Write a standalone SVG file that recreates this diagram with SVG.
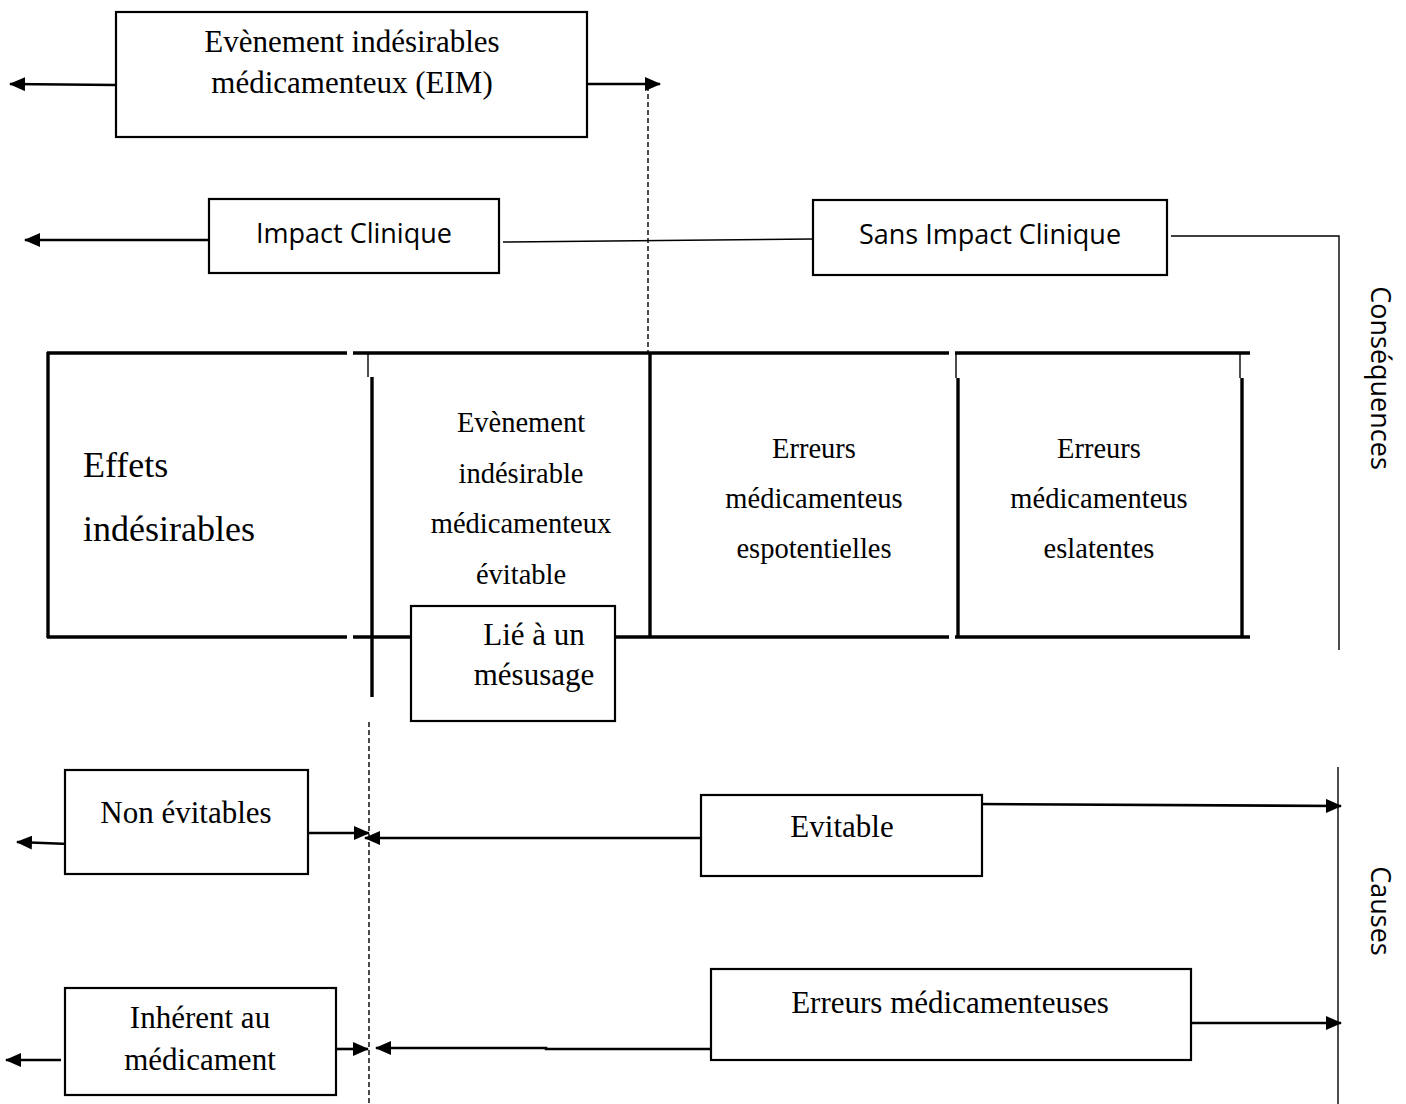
<svg xmlns="http://www.w3.org/2000/svg" width="1406" height="1104" viewBox="0 0 1406 1104">
<style>
.bg{fill:#fff}
.box{fill:#fff;stroke:#000;stroke-width:2.2}
.ser{font-family:"Liberation Serif","Times New Roman",serif;fill:#000}
.san{font-family:"Open Sans","Noto Sans",sans-serif;fill:#000;font-size:27px}
.c{text-anchor:middle}
.thick{stroke:#000;stroke-width:3.4;fill:none}
.thin{stroke:#000;stroke-width:1.4;fill:none}
.arr{stroke:#000;stroke-width:2.6;fill:none;marker-end:url(#ah)}
.ln{stroke:#000;stroke-width:2.6;fill:none}
.dash{stroke:#000;stroke-width:1.4;fill:none;stroke-dasharray:5,3}
</style>
<defs>
<marker id="ah" viewBox="0 0 16 14" refX="15" refY="7" markerWidth="16" markerHeight="14" markerUnits="userSpaceOnUse" orient="auto">
<path d="M0,0 L16,7 L0,14 z" fill="#000"/>
</marker>
</defs>
<rect class="bg" x="0" y="0" width="1406" height="1104"/>

<g id="connectors">
<line class="arr" x1="116" y1="85" x2="10" y2="84"/>
<line class="arr" x1="587" y1="84" x2="660" y2="84"/>
<line class="dash" x1="648" y1="86" x2="648" y2="353"/>
<line class="arr" x1="209" y1="240" x2="25" y2="240"/>
<line class="thin" x1="503" y1="242" x2="813" y2="239"/>
<polyline class="thin" points="1171,236 1339,236 1339,650"/>
<line class="thin" x1="1338" y1="767" x2="1338" y2="1104"/>
<line class="dash" x1="369" y1="722" x2="369" y2="1104"/>
<line class="arr" x1="69" y1="844" x2="17" y2="842"/>
<line class="arr" x1="306" y1="833" x2="369" y2="833"/>
<line class="arr" x1="701" y1="838" x2="365" y2="838"/>
<line class="arr" x1="976" y1="804" x2="1341" y2="806"/>
<line class="arr" x1="1191" y1="1023" x2="1341" y2="1023"/>
<line class="arr" x1="61" y1="1060" x2="6" y2="1060"/>
<line class="arr" x1="336" y1="1049" x2="368" y2="1049"/>
<polyline class="arr" points="716,1049 546,1049 546,1048 376,1048"/>
</g>

<g id="table">
<line class="thick" x1="47" y1="353" x2="347" y2="353"/>
<line class="thick" x1="353" y1="353" x2="949" y2="353"/>
<line class="thick" x1="955" y1="353" x2="1250" y2="353"/>
<line class="thick" x1="47" y1="637" x2="347" y2="637"/>
<line class="thick" x1="353" y1="637" x2="949" y2="637"/>
<line class="thick" x1="955" y1="637" x2="1250" y2="637"/>
<line class="thick" x1="48" y1="352" x2="48" y2="638"/>
<line class="thin" x1="368" y1="354" x2="368" y2="377"/>
<line class="thick" x1="372" y1="377" x2="372" y2="697"/>
<line class="thick" x1="650" y1="353" x2="650" y2="637"/>
<line class="thin" x1="956" y1="354" x2="956" y2="378"/>
<line class="thick" x1="958" y1="378" x2="958" y2="638"/>
<line class="thin" x1="1240" y1="354" x2="1240" y2="378"/>
<line class="thick" x1="1242" y1="378" x2="1242" y2="638"/>
</g>

<g id="node-eim">
<rect class="box" x="116" y="12" width="471" height="125"/>
<text class="ser c" font-size="31" x="352" y="52">Evènement indésirables</text>
<text class="ser c" font-size="31" x="352" y="93">médicamenteux (EIM)</text>
</g>
<g id="node-impact">
<rect class="box" x="209" y="199" width="290" height="74"/>
<text class="san c" x="354" y="243">Impact Clinique</text>
</g>
<g id="node-sans-impact">
<rect class="box" x="813" y="200" width="354" height="75"/>
<text class="san c" x="990" y="244">Sans Impact Clinique</text>
</g>
<g id="node-effets">
<text class="ser" font-size="36" x="83" y="477">Effets</text>
<text class="ser" font-size="36" x="83" y="541">indésirables</text>
</g>
<g id="node-eime">
<text class="ser c" font-size="28.5" x="521" y="432">Evènement</text>
<text class="ser c" font-size="28.5" x="521" y="483">indésirable</text>
<text class="ser c" font-size="28.5" x="521" y="533">médicamenteux</text>
<text class="ser c" font-size="28.5" x="521" y="584">évitable</text>
</g>
<g id="node-potentielles">
<text class="ser c" font-size="28.5" x="814" y="458">Erreurs</text>
<text class="ser c" font-size="28.5" x="814" y="508">médicamenteus</text>
<text class="ser c" font-size="28.5" x="814" y="558">espotentielles</text>
</g>
<g id="node-latentes">
<text class="ser c" font-size="28.5" x="1099" y="458">Erreurs</text>
<text class="ser c" font-size="28.5" x="1099" y="508">médicamenteus</text>
<text class="ser c" font-size="28.5" x="1099" y="558">eslatentes</text>
</g>
<g id="node-mesusage">
<rect class="box" x="411" y="606" width="204" height="115"/>
<text class="ser c" font-size="31" x="534" y="645">Lié à un</text>
<text class="ser c" font-size="31" x="534" y="685">mésusage</text>
</g>
<g id="node-non-evitables">
<rect class="box" x="65" y="770" width="243" height="104"/>
<text class="ser c" font-size="31" x="186" y="823">Non évitables</text>
</g>
<g id="node-evitable">
<rect class="box" x="701" y="795" width="281" height="81"/>
<text class="ser c" font-size="31" x="842" y="837">Evitable</text>
</g>
<g id="node-erreurs-med">
<rect class="box" x="711" y="969" width="480" height="91"/>
<text class="ser c" font-size="31" x="950" y="1013">Erreurs médicamenteuses</text>
</g>
<g id="node-inherent">
<rect class="box" x="65" y="988" width="271" height="107"/>
<text class="ser c" font-size="31" x="200" y="1028">Inhérent au</text>
<text class="ser c" font-size="31" x="200" y="1070">médicament</text>
</g>
<g id="label-consequences">
<text class="san c" transform="translate(1371,378) rotate(90)">Conséquences</text>
</g>
<g id="label-causes">
<text class="san c" transform="translate(1371,911) rotate(90)">Causes</text>
</g>
</svg>
